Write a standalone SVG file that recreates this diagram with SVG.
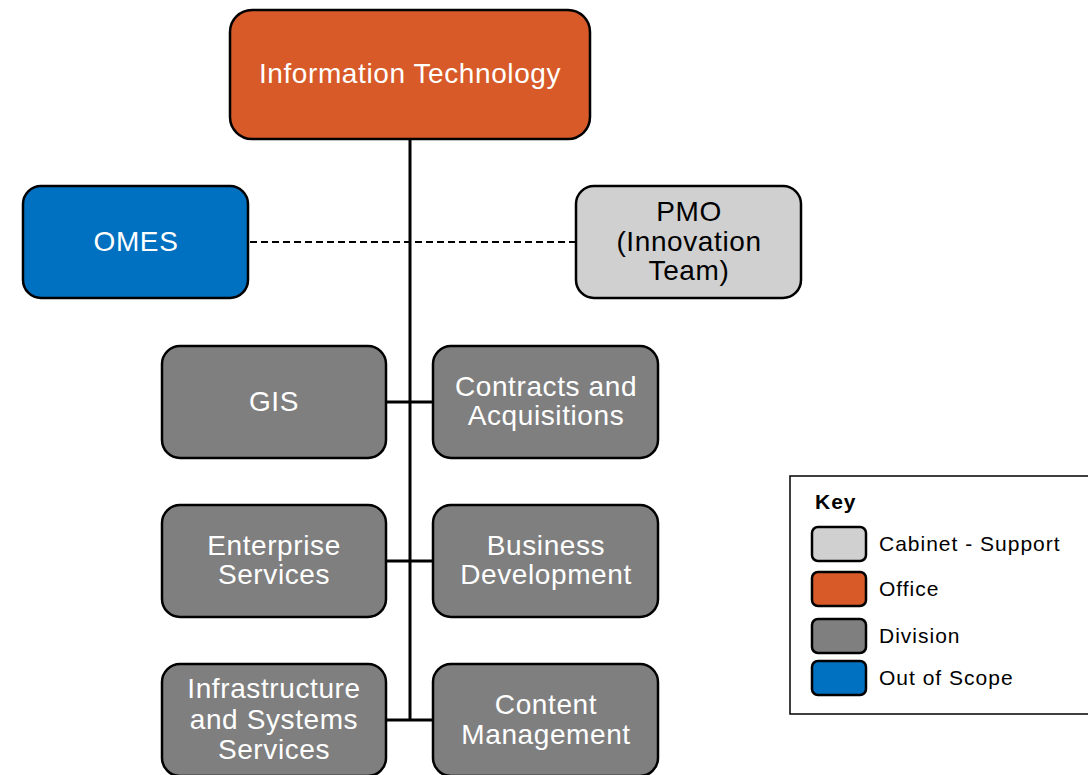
<svg xmlns="http://www.w3.org/2000/svg" width="1088" height="775" viewBox="0 0 1088 775">
<style>
.box{stroke:#000;stroke-width:2.5}
.office{fill:#D75A28}
.scope{fill:#0070C0}
.cab{fill:#D0D0D0}
.div{fill:#7F7F7F}
.t{font-family:"Liberation Sans",Arial,sans-serif;font-size:28px;letter-spacing:0.6px;text-anchor:middle;fill:#fff}
.td{fill:#000}
.k{font-family:"Liberation Sans",Arial,sans-serif;font-size:21px;letter-spacing:1px;fill:#000}
.line{stroke:#000;stroke-width:3;fill:none}
</style>
<rect width="1088" height="775" fill="#fff"/>
<g id="connectors">
<line class="line" x1="410" y1="139" x2="410" y2="720"/>
<line class="line" x1="386" y1="402" x2="433" y2="402"/>
<line class="line" x1="386" y1="561" x2="433" y2="561"/>
<line class="line" x1="386" y1="720" x2="433" y2="720"/>
<line stroke="#000" stroke-width="2" stroke-dasharray="7,4" x1="250" y1="242" x2="576" y2="242"/>
</g>
<g id="it"><rect class="box office" x="230" y="10" width="360" height="129" rx="22"/><text class="t" x="410" y="83">Information Technology</text></g>
<g id="omes"><rect class="box scope" x="23" y="186" width="225" height="112" rx="18"/><text class="t" x="136" y="251">OMES</text></g>
<g id="pmo"><rect class="box cab" x="576" y="186" width="225" height="112" rx="18"/><text class="t td" x="689" y="221">PMO</text><text class="t td" x="689" y="251">(Innovation</text><text class="t td" x="689" y="280">Team)</text></g>
<g id="gis"><rect class="box div" x="162" y="346" width="224" height="112" rx="18"/><text class="t" x="274" y="411">GIS</text></g>
<g id="contracts"><rect class="box div" x="433" y="346" width="225" height="112" rx="18"/><text class="t" x="546" y="396">Contracts and</text><text class="t" x="546" y="425">Acquisitions</text></g>
<g id="enterprise"><rect class="box div" x="162" y="505" width="224" height="112" rx="18"/><text class="t" x="274" y="555">Enterprise</text><text class="t" x="274" y="584">Services</text></g>
<g id="business"><rect class="box div" x="433" y="505" width="225" height="112" rx="18"/><text class="t" x="546" y="555">Business</text><text class="t" x="546" y="584">Development</text></g>
<g id="infra"><rect class="box div" x="162" y="664" width="224" height="112" rx="18"/><text class="t" x="274" y="698">Infrastructure</text><text class="t" x="274" y="729">and Systems</text><text class="t" x="274" y="759">Services</text></g>
<g id="content"><rect class="box div" x="433" y="664" width="225" height="112" rx="18"/><text class="t" x="546" y="714">Content</text><text class="t" x="546" y="744">Management</text></g>
<g id="key">
<rect x="790" y="476" width="300" height="238" fill="#fff" stroke="#000" stroke-width="1.5"/>
<text class="k" x="815" y="509" font-weight="bold" letter-spacing="0.5">Key</text>
<rect class="box cab" x="812" y="527" width="54" height="34" rx="6"/><text class="k" x="879" y="551">Cabinet - Support</text>
<rect class="box office" x="812" y="572" width="54" height="34" rx="6"/><text class="k" x="879" y="596">Office</text>
<rect class="box div" x="812" y="619" width="54" height="34" rx="6"/><text class="k" x="879" y="643">Division</text>
<rect class="box scope" x="812" y="661" width="54" height="34" rx="6"/><text class="k" x="879" y="685">Out of Scope</text>
</g>
</svg>
